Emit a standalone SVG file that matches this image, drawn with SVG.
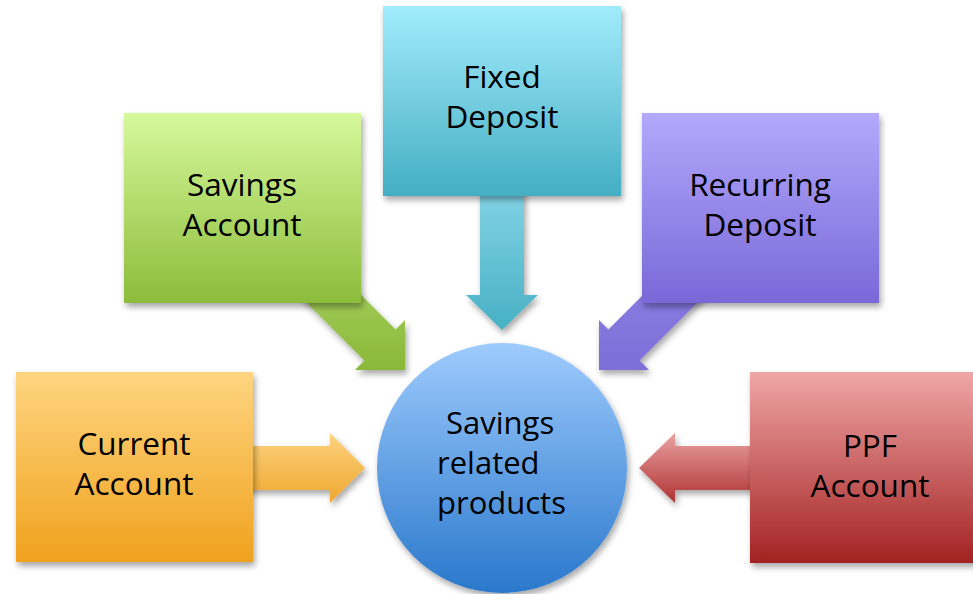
<svg xmlns="http://www.w3.org/2000/svg" width="973" height="594" viewBox="0 0 973 594">
<style>
.lbl{font-family:"Open Sans","Noto Sans","Liberation Sans",sans-serif;font-size:31.5px;fill:#000;text-anchor:middle}
.lbs{font-family:"Open Sans","Noto Sans","Liberation Sans",sans-serif;font-size:31px;fill:#000}
.sh{filter:url(#shadow)}
</style>
<defs>
<filter id="shadow" x="-20%" y="-20%" width="140%" height="140%">
<feDropShadow dx="2" dy="4" stdDeviation="3" flood-color="#000" flood-opacity="0.35"/>
</filter>
<linearGradient id="gGreen" x1="0" y1="0" x2="0" y2="1"><stop offset="0" stop-color="#d6f99c"/><stop offset="1" stop-color="#8cbc3a"/></linearGradient>
<linearGradient id="gTeal" x1="0" y1="0" x2="0" y2="1"><stop offset="0" stop-color="#a2ecfc"/><stop offset="1" stop-color="#44aec2"/></linearGradient>
<linearGradient id="gPurple" x1="0" y1="0" x2="0" y2="1"><stop offset="0" stop-color="#b3a9fc"/><stop offset="1" stop-color="#7a68d8"/></linearGradient>
<linearGradient id="gOrange" x1="0" y1="0" x2="0" y2="1"><stop offset="0" stop-color="#fed580"/><stop offset="1" stop-color="#f0a21e"/></linearGradient>
<linearGradient id="gRed" x1="0" y1="0" x2="0" y2="1"><stop offset="0" stop-color="#f0a6a6"/><stop offset="1" stop-color="#a32222"/></linearGradient>
<linearGradient id="gBlue" x1="0" y1="0" x2="0" y2="1"><stop offset="0" stop-color="#9ecbfd"/><stop offset="1" stop-color="#2a78cc"/></linearGradient>
<linearGradient id="aGreen" x1="0" y1="0" x2="0" y2="1"><stop offset="0" stop-color="#aad468"/><stop offset="1" stop-color="#8ab838"/></linearGradient>
<linearGradient id="aTeal" x1="0" y1="0" x2="0" y2="1"><stop offset="0" stop-color="#86d6e8"/><stop offset="1" stop-color="#48b0c4"/></linearGradient>
<linearGradient id="aPurple" x1="0" y1="0" x2="0" y2="1"><stop offset="0" stop-color="#8e82e4"/><stop offset="1" stop-color="#7e6ed8"/></linearGradient>
<linearGradient id="aOrange" x1="0" y1="0" x2="0" y2="1"><stop offset="0" stop-color="#fcd27e"/><stop offset="1" stop-color="#f0a830"/></linearGradient>
<linearGradient id="aRed" x1="0" y1="0" x2="0" y2="1"><stop offset="0" stop-color="#eaa2a2"/><stop offset="1" stop-color="#b03232"/></linearGradient>
</defs>
<rect width="973" height="594" fill="#fff"/>
<g id="connectors">
<polygon class="sh" fill="url(#aGreen)" points="317.6,251.4 395.6,329.4 405,320 405,370 355,370 364.4,360.6 286.4,282.6"/>
<polygon class="sh" fill="url(#aTeal)" points="480,180 524,180 524,295 538,295 502,330 466,295 480,295"/>
<polygon class="sh" fill="url(#aPurple)" points="686.4,251.4 608.4,329.4 599,320 599,370 649,370 639.6,360.6 717.6,282.6"/>
<polygon class="sh" fill="url(#aOrange)" points="240,446 330,446 330,433 365,468 330,503 330,490 240,490"/>
<polygon class="sh" fill="url(#aRed)" points="760,446 675,446 675,433 639,468 675,503 675,490 760,490"/>
</g>
<g id="savings-account">
<rect class="sh" x="124" y="113" width="237" height="190" fill="url(#gGreen)"/>
<text class="lbl" x="242" y="196">Savings</text>
<text class="lbl" x="242" y="236">Account</text>
</g>
<g id="fixed-deposit">
<rect class="sh" x="383" y="6" width="238" height="190" fill="url(#gTeal)"/>
<text class="lbl" x="502" y="88">Fixed</text>
<text class="lbl" x="502" y="128">Deposit</text>
</g>
<g id="recurring-deposit">
<rect class="sh" x="642" y="113" width="237" height="190" fill="url(#gPurple)"/>
<text class="lbl" x="760" y="196">Recurring</text>
<text class="lbl" x="760" y="236">Deposit</text>
</g>
<g id="current-account">
<rect class="sh" x="16" y="372" width="237" height="190" fill="url(#gOrange)"/>
<text class="lbl" x="134" y="455">Current</text>
<text class="lbl" x="134" y="495">Account</text>
</g>
<g id="ppf-account">
<rect class="sh" x="750" y="372" width="240" height="191" fill="url(#gRed)"/>
<text class="lbl" x="870" y="457">PPF</text>
<text class="lbl" x="870" y="497">Account</text>
</g>
<g id="savings-related-products">
<circle class="sh" cx="502" cy="468" r="125" fill="url(#gBlue)"/>
<text class="lbs" x="446" y="434">Savings</text>
<text class="lbs" x="437" y="474">related</text>
<text class="lbs" x="437" y="514">products</text>
</g>
</svg>
